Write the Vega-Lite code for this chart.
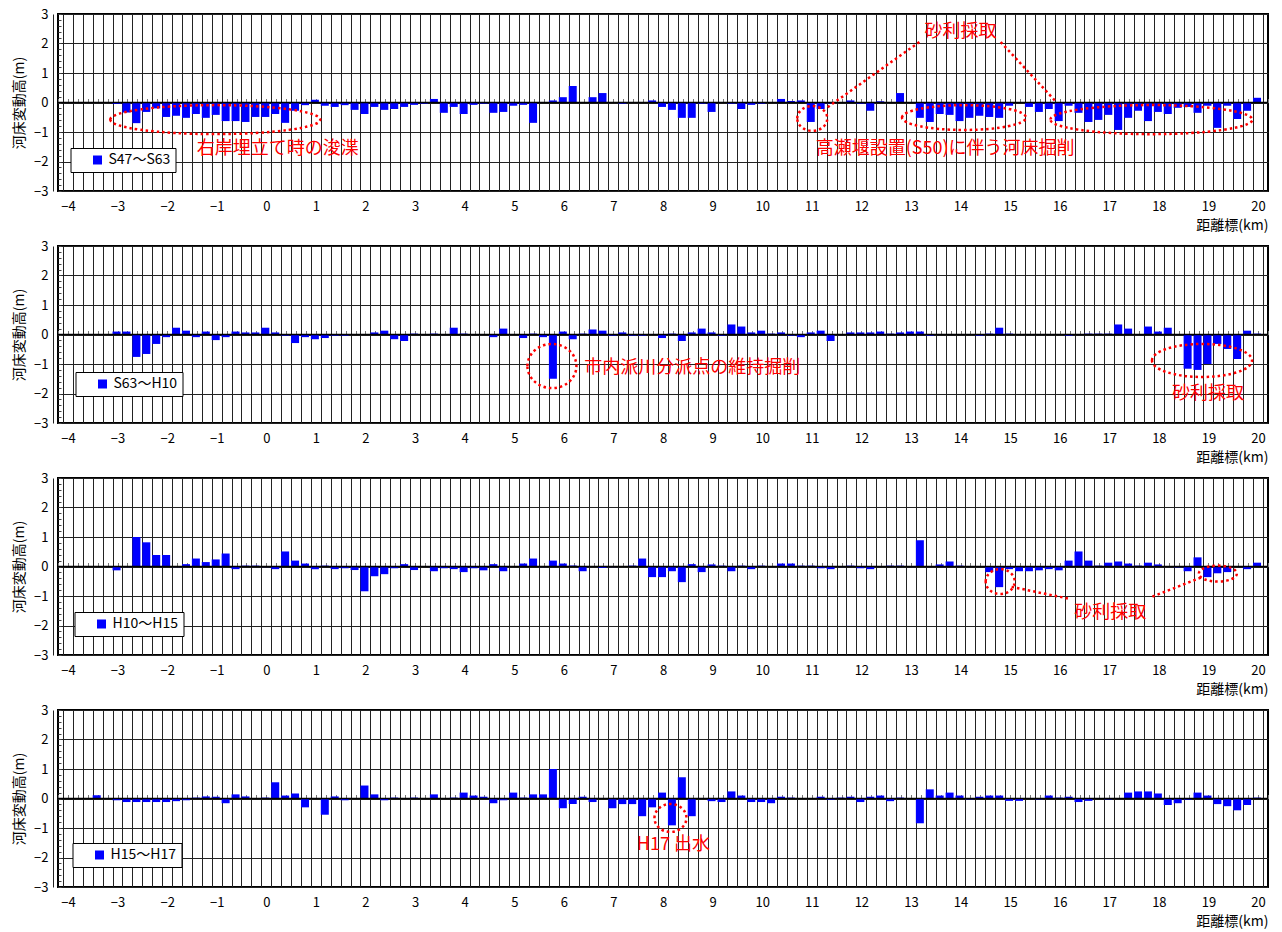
{
  "$schema": "https://vega.github.io/schema/vega-lite/v6.json",
  "background": "white",
  "padding": {"left": 11, "top": 7, "right": 14, "bottom": 0},
  "bounds": "flush",
  "spacing": 55,
  "resolve": {"scale": {"color": "independent"}, "legend": {"color": "independent"}},
  "config": {
    "font": "Noto Sans CJK JP",
    "view": {"stroke": "#000", "strokeWidth": 2},
    "axis": {"labelFont": "Noto Sans CJK JP", "titleFont": "Noto Sans CJK JP", "labelColor": "#000", "titleColor": "#000", "titleFontWeight": "normal", "labelFontSize": 13, "titleFontSize": 14},
    "legend": {"labelFont": "Noto Sans CJK JP", "labelFontSize": 14, "labelColor": "#000", "orient": "none", "title": null, "fillColor": "white", "strokeColor": "black", "padding": 5, "symbolType": "square", "symbolSize": 81, "symbolOffset": 15, "labelOffset": 4}
  },
  "datasets": {
    "p1": [{"km":-4,"dh":0},{"km":-3.8,"dh":0},{"km":-3.6,"dh":0},{"km":-3.4,"dh":0},{"km":-3.2,"dh":0},
{"km":-3,"dh":-0.05},{"km":-2.8,"dh":-0.34},{"km":-2.6,"dh":-0.7},{"km":-2.4,"dh":-0.32},{"km":-2.2,"dh":-0.2},
{"km":-2,"dh":-0.49},{"km":-1.8,"dh":-0.45},{"km":-1.6,"dh":-0.52},{"km":-1.4,"dh":-0.39},{"km":-1.2,"dh":-0.52},
{"km":-1,"dh":-0.42},{"km":-0.8,"dh":-0.63},{"km":-0.6,"dh":-0.63},{"km":-0.4,"dh":-0.66},{"km":-0.2,"dh":-0.49},
{"km":0,"dh":-0.49},{"km":0.2,"dh":-0.39},{"km":0.4,"dh":-0.69},{"km":0.6,"dh":-0.28},{"km":0.8,"dh":-0.09},
{"km":1,"dh":0.09},{"km":1.2,"dh":-0.11},{"km":1.4,"dh":-0.15},{"km":1.6,"dh":-0.09},{"km":1.8,"dh":-0.25},
{"km":2,"dh":-0.39},{"km":2.2,"dh":-0.15},{"km":2.4,"dh":-0.25},{"km":2.6,"dh":-0.22},{"km":2.8,"dh":-0.15},
{"km":3,"dh":-0.08},{"km":3.2,"dh":-0.04},{"km":3.4,"dh":0.12},{"km":3.6,"dh":-0.35},{"km":3.8,"dh":-0.15},
{"km":4,"dh":-0.39},{"km":4.2,"dh":-0.08},{"km":4.4,"dh":-0.04},{"km":4.6,"dh":-0.35},{"km":4.8,"dh":-0.32},
{"km":5,"dh":-0.11},{"km":5.2,"dh":-0.08},{"km":5.4,"dh":-0.69},{"km":5.6,"dh":0},{"km":5.8,"dh":0.07},
{"km":6,"dh":0.18},{"km":6.2,"dh":0.56},{"km":6.4,"dh":0},{"km":6.6,"dh":0.18},{"km":6.8,"dh":0.32},
{"km":7,"dh":0},{"km":7.2,"dh":-0.04},{"km":7.4,"dh":0},{"km":7.6,"dh":0},{"km":7.8,"dh":0.07},
{"km":8,"dh":-0.15},{"km":8.2,"dh":-0.25},{"km":8.4,"dh":-0.52},{"km":8.6,"dh":-0.52},{"km":8.8,"dh":-0.04},
{"km":9,"dh":-0.32},{"km":9.2,"dh":0},{"km":9.4,"dh":-0.04},{"km":9.6,"dh":-0.22},{"km":9.8,"dh":-0.08},
{"km":10,"dh":-0.04},{"km":10.2,"dh":0},{"km":10.4,"dh":0.12},{"km":10.6,"dh":0.05},{"km":10.8,"dh":0.07},
{"km":11,"dh":-0.66},{"km":11.2,"dh":-0.22},{"km":11.4,"dh":-0.03},{"km":11.6,"dh":0},{"km":11.8,"dh":0.07},
{"km":12,"dh":-0.04},{"km":12.2,"dh":-0.28},{"km":12.4,"dh":0.04},{"km":12.6,"dh":0},{"km":12.8,"dh":0.32},
{"km":13,"dh":0},{"km":13.2,"dh":-0.52},{"km":13.4,"dh":-0.66},{"km":13.6,"dh":-0.39},{"km":13.8,"dh":-0.42},
{"km":14,"dh":-0.63},{"km":14.2,"dh":-0.52},{"km":14.4,"dh":-0.45},{"km":14.6,"dh":-0.49},{"km":14.8,"dh":-0.52},
{"km":15,"dh":-0.11},{"km":15.2,"dh":0},{"km":15.4,"dh":-0.15},{"km":15.6,"dh":-0.32},{"km":15.8,"dh":-0.22},
{"km":16,"dh":-0.63},{"km":16.2,"dh":-0.11},{"km":16.4,"dh":-0.35},{"km":16.6,"dh":-0.66},{"km":16.8,"dh":-0.59},
{"km":17,"dh":-0.42},{"km":17.2,"dh":-0.93},{"km":17.4,"dh":-0.52},{"km":17.6,"dh":-0.28},{"km":17.8,"dh":-0.63},
{"km":18,"dh":-0.32},{"km":18.2,"dh":-0.39},{"km":18.4,"dh":-0.18},{"km":18.6,"dh":-0.15},{"km":18.8,"dh":-0.35},
{"km":19,"dh":-0.11},{"km":19.2,"dh":-0.86},{"km":19.4,"dh":-0.11},{"km":19.6,"dh":-0.56},{"km":19.8,"dh":-0.28},
{"km":20,"dh":0.16}],
    "p2": [{"km":-4,"dh":0},{"km":-3.8,"dh":0},{"km":-3.6,"dh":0},{"km":-3.4,"dh":0},{"km":-3.2,"dh":0},
{"km":-3,"dh":0.1},{"km":-2.8,"dh":0.1},{"km":-2.6,"dh":-0.76},{"km":-2.4,"dh":-0.66},{"km":-2.2,"dh":-0.32},
{"km":-2,"dh":-0.09},{"km":-1.8,"dh":0.23},{"km":-1.6,"dh":0.13},{"km":-1.4,"dh":-0.09},{"km":-1.2,"dh":0.1},
{"km":-1,"dh":-0.19},{"km":-0.8,"dh":-0.09},{"km":-0.6,"dh":0.1},{"km":-0.4,"dh":0.07},{"km":-0.2,"dh":0.07},
{"km":0,"dh":0.23},{"km":0.2,"dh":0.07},{"km":0.4,"dh":-0.04},{"km":0.6,"dh":-0.29},{"km":0.8,"dh":-0.09},
{"km":1,"dh":-0.16},{"km":1.2,"dh":-0.12},{"km":1.4,"dh":-0.04},{"km":1.6,"dh":-0.04},{"km":1.8,"dh":0},
{"km":2,"dh":0},{"km":2.2,"dh":0.07},{"km":2.4,"dh":0.13},{"km":2.6,"dh":-0.16},{"km":2.8,"dh":-0.22},
{"km":3,"dh":0.03},{"km":3.2,"dh":0},{"km":3.4,"dh":0.03},{"km":3.6,"dh":0},{"km":3.8,"dh":0.23},
{"km":4,"dh":0.03},{"km":4.2,"dh":0},{"km":4.4,"dh":0},{"km":4.6,"dh":-0.09},{"km":4.8,"dh":0.2},
{"km":5,"dh":0},{"km":5.2,"dh":-0.12},{"km":5.4,"dh":0.03},{"km":5.6,"dh":-0.09},{"km":5.8,"dh":-1.5},
{"km":6,"dh":0.1},{"km":6.2,"dh":-0.16},{"km":6.4,"dh":0.03},{"km":6.6,"dh":0.17},{"km":6.8,"dh":0.13},
{"km":7,"dh":-0.04},{"km":7.2,"dh":0.07},{"km":7.4,"dh":-0.04},{"km":7.6,"dh":-0.04},{"km":7.8,"dh":0},
{"km":8,"dh":-0.12},{"km":8.2,"dh":0.03},{"km":8.4,"dh":-0.22},{"km":8.6,"dh":0.07},{"km":8.8,"dh":0.2},
{"km":9,"dh":0.07},{"km":9.2,"dh":-0.04},{"km":9.4,"dh":0.34},{"km":9.6,"dh":0.27},{"km":9.8,"dh":0.07},
{"km":10,"dh":0.13},{"km":10.2,"dh":0.03},{"km":10.4,"dh":0.07},{"km":10.6,"dh":-0.04},{"km":10.8,"dh":-0.09},
{"km":11,"dh":0.07},{"km":11.2,"dh":0.13},{"km":11.4,"dh":-0.22},{"km":11.6,"dh":0},{"km":11.8,"dh":0.07},
{"km":12,"dh":0.07},{"km":12.2,"dh":0.07},{"km":12.4,"dh":0.1},{"km":12.6,"dh":0.03},{"km":12.8,"dh":0.07},
{"km":13,"dh":0.1},{"km":13.2,"dh":0.1},{"km":13.4,"dh":-0.04},{"km":13.6,"dh":0},{"km":13.8,"dh":0},
{"km":14,"dh":0},{"km":14.2,"dh":0},{"km":14.4,"dh":-0.04},{"km":14.6,"dh":0.03},{"km":14.8,"dh":0.23},
{"km":15,"dh":0.03},{"km":15.2,"dh":0},{"km":15.4,"dh":0},{"km":15.6,"dh":0},{"km":15.8,"dh":0},
{"km":16,"dh":0},{"km":16.2,"dh":-0.04},{"km":16.4,"dh":0},{"km":16.6,"dh":0.03},{"km":16.8,"dh":0.03},
{"km":17,"dh":0.03},{"km":17.2,"dh":0.34},{"km":17.4,"dh":0.2},{"km":17.6,"dh":0},{"km":17.8,"dh":0.27},
{"km":18,"dh":0.1},{"km":18.2,"dh":0.23},{"km":18.4,"dh":0},{"km":18.6,"dh":-1.16},{"km":18.8,"dh":-1.2},
{"km":19,"dh":-1.0},{"km":19.2,"dh":-0.32},{"km":19.4,"dh":-0.49},{"km":19.6,"dh":-0.83},{"km":19.8,"dh":0.13},
{"km":20,"dh":0.03}],
    "p3": [{"km":-4,"dh":0},{"km":-3.8,"dh":0},{"km":-3.6,"dh":0},{"km":-3.4,"dh":0},{"km":-3.2,"dh":0},
{"km":-3,"dh":-0.13},{"km":-2.8,"dh":-0.02},{"km":-2.6,"dh":1.0},{"km":-2.4,"dh":0.82},{"km":-2.2,"dh":0.39},
{"km":-2,"dh":0.39},{"km":-1.8,"dh":-0.02},{"km":-1.6,"dh":0.08},{"km":-1.4,"dh":0.27},{"km":-1.2,"dh":0.15},
{"km":-1,"dh":0.24},{"km":-0.8,"dh":0.44},{"km":-0.6,"dh":-0.09},{"km":-0.4,"dh":0.03},{"km":-0.2,"dh":0.03},
{"km":0,"dh":-0.02},{"km":0.2,"dh":-0.09},{"km":0.4,"dh":0.51},{"km":0.6,"dh":0.2},{"km":0.8,"dh":0.1},
{"km":1,"dh":-0.09},{"km":1.2,"dh":0.03},{"km":1.4,"dh":-0.09},{"km":1.6,"dh":-0.06},{"km":1.8,"dh":-0.12},
{"km":2,"dh":-0.84},{"km":2.2,"dh":-0.33},{"km":2.4,"dh":-0.26},{"km":2.6,"dh":-0.06},{"km":2.8,"dh":0.08},
{"km":3,"dh":-0.12},{"km":3.2,"dh":0},{"km":3.4,"dh":-0.16},{"km":3.6,"dh":-0.06},{"km":3.8,"dh":-0.09},
{"km":4,"dh":-0.19},{"km":4.2,"dh":-0.06},{"km":4.4,"dh":-0.13},{"km":4.6,"dh":0.08},{"km":4.8,"dh":-0.16},
{"km":5,"dh":0},{"km":5.2,"dh":0.1},{"km":5.4,"dh":0.27},{"km":5.6,"dh":-0.02},{"km":5.8,"dh":0.2},
{"km":6,"dh":0.1},{"km":6.2,"dh":0.03},{"km":6.4,"dh":-0.16},{"km":6.6,"dh":0},{"km":6.8,"dh":-0.05},
{"km":7,"dh":-0.02},{"km":7.2,"dh":0},{"km":7.4,"dh":0.03},{"km":7.6,"dh":0.27},{"km":7.8,"dh":-0.36},
{"km":8,"dh":-0.36},{"km":8.2,"dh":-0.16},{"km":8.4,"dh":-0.53},{"km":8.6,"dh":0.08},{"km":8.8,"dh":-0.19},
{"km":9,"dh":0.07},{"km":9.2,"dh":0.03},{"km":9.4,"dh":-0.16},{"km":9.6,"dh":0.03},{"km":9.8,"dh":-0.09},
{"km":10,"dh":0.03},{"km":10.2,"dh":0},{"km":10.4,"dh":0.1},{"km":10.6,"dh":0.1},{"km":10.8,"dh":0.03},
{"km":11,"dh":0.03},{"km":11.2,"dh":-0.06},{"km":11.4,"dh":-0.09},{"km":11.6,"dh":-0.02},{"km":11.8,"dh":0.03},
{"km":12,"dh":-0.06},{"km":12.2,"dh":-0.09},{"km":12.4,"dh":0},{"km":12.6,"dh":0.03},{"km":12.8,"dh":0.03},
{"km":13,"dh":0},{"km":13.2,"dh":0.89},{"km":13.4,"dh":0},{"km":13.6,"dh":0.07},{"km":13.8,"dh":0.17},
{"km":14,"dh":0.03},{"km":14.2,"dh":0},{"km":14.4,"dh":0},{"km":14.6,"dh":-0.19},{"km":14.8,"dh":-0.7},
{"km":15,"dh":-0.09},{"km":15.2,"dh":-0.16},{"km":15.4,"dh":-0.16},{"km":15.6,"dh":-0.13},{"km":15.8,"dh":-0.09},
{"km":16,"dh":-0.13},{"km":16.2,"dh":0.2},{"km":16.4,"dh":0.51},{"km":16.6,"dh":0.2},{"km":16.8,"dh":0.03},
{"km":17,"dh":0.13},{"km":17.2,"dh":0.17},{"km":17.4,"dh":0.1},{"km":17.6,"dh":0.03},{"km":17.8,"dh":0.13},
{"km":18,"dh":0.07},{"km":18.2,"dh":0},{"km":18.4,"dh":-0.03},{"km":18.6,"dh":-0.16},{"km":18.8,"dh":0.31},
{"km":19,"dh":-0.36},{"km":19.2,"dh":-0.23},{"km":19.4,"dh":-0.19},{"km":19.6,"dh":0},{"km":19.8,"dh":-0.09},
{"km":20,"dh":0.13}],
    "p4": [{"km":-4,"dh":0},{"km":-3.8,"dh":0},{"km":-3.6,"dh":0},{"km":-3.4,"dh":0.11},{"km":-3.2,"dh":0},
{"km":-3,"dh":-0.06},{"km":-2.8,"dh":-0.12},{"km":-2.6,"dh":-0.12},{"km":-2.4,"dh":-0.12},{"km":-2.2,"dh":-0.12},
{"km":-2,"dh":-0.12},{"km":-1.8,"dh":-0.09},{"km":-1.6,"dh":-0.06},{"km":-1.4,"dh":0.03},{"km":-1.2,"dh":0.07},
{"km":-1,"dh":0.06},{"km":-0.8,"dh":-0.16},{"km":-0.6,"dh":0.14},{"km":-0.4,"dh":0.07},{"km":-0.2,"dh":0},
{"km":0,"dh":0.03},{"km":0.2,"dh":0.55},{"km":0.4,"dh":0.1},{"km":0.6,"dh":0.17},{"km":0.8,"dh":-0.3},
{"km":1,"dh":0},{"km":1.2,"dh":-0.55},{"km":1.4,"dh":0.07},{"km":1.6,"dh":-0.06},{"km":1.8,"dh":0},
{"km":2,"dh":0.44},{"km":2.2,"dh":0.14},{"km":2.4,"dh":-0.06},{"km":2.6,"dh":0.03},{"km":2.8,"dh":0},
{"km":3,"dh":0.03},{"km":3.2,"dh":0},{"km":3.4,"dh":0.14},{"km":3.6,"dh":0},{"km":3.8,"dh":0.03},
{"km":4,"dh":0.2},{"km":4.2,"dh":0.1},{"km":4.4,"dh":0.06},{"km":4.6,"dh":-0.16},{"km":4.8,"dh":-0.06},
{"km":5,"dh":0.2},{"km":5.2,"dh":0.03},{"km":5.4,"dh":0.14},{"km":5.6,"dh":0.14},{"km":5.8,"dh":1.0},
{"km":6,"dh":-0.33},{"km":6.2,"dh":-0.19},{"km":6.4,"dh":0.06},{"km":6.6,"dh":-0.12},{"km":6.8,"dh":0},
{"km":7,"dh":-0.33},{"km":7.2,"dh":-0.19},{"km":7.4,"dh":-0.19},{"km":7.6,"dh":-0.6},{"km":7.8,"dh":-0.3},
{"km":8,"dh":0.2},{"km":8.2,"dh":-0.91},{"km":8.4,"dh":0.72},{"km":8.6,"dh":-0.6},{"km":8.8,"dh":0},
{"km":9,"dh":-0.09},{"km":9.2,"dh":-0.12},{"km":9.4,"dh":0.24},{"km":9.6,"dh":0.1},{"km":9.8,"dh":-0.12},
{"km":10,"dh":-0.12},{"km":10.2,"dh":-0.16},{"km":10.4,"dh":0.06},{"km":10.6,"dh":0.03},{"km":10.8,"dh":0},
{"km":11,"dh":0},{"km":11.2,"dh":0.06},{"km":11.4,"dh":-0.04},{"km":11.6,"dh":0.03},{"km":11.8,"dh":0.06},
{"km":12,"dh":-0.12},{"km":12.2,"dh":0.06},{"km":12.4,"dh":0.1},{"km":12.6,"dh":-0.09},{"km":12.8,"dh":0.03},
{"km":13,"dh":0},{"km":13.2,"dh":-0.84},{"km":13.4,"dh":0.31},{"km":13.6,"dh":0.1},{"km":13.8,"dh":0.2},
{"km":14,"dh":0.1},{"km":14.2,"dh":-0.03},{"km":14.4,"dh":0.06},{"km":14.6,"dh":0.1},{"km":14.8,"dh":0.1},
{"km":15,"dh":-0.08},{"km":15.2,"dh":-0.08},{"km":15.4,"dh":0},{"km":15.6,"dh":-0.03},{"km":15.8,"dh":0.1},
{"km":16,"dh":0.03},{"km":16.2,"dh":0.06},{"km":16.4,"dh":-0.12},{"km":16.6,"dh":-0.08},{"km":16.8,"dh":0},
{"km":17,"dh":-0.03},{"km":17.2,"dh":0},{"km":17.4,"dh":0.2},{"km":17.6,"dh":0.24},{"km":17.8,"dh":0.24},
{"km":18,"dh":0.17},{"km":18.2,"dh":-0.22},{"km":18.4,"dh":-0.16},{"km":18.6,"dh":-0.04},{"km":18.8,"dh":0.2},
{"km":19,"dh":0.1},{"km":19.2,"dh":-0.19},{"km":19.4,"dh":-0.26},{"km":19.6,"dh":-0.4},{"km":19.8,"dh":-0.22},
{"km":20,"dh":0.03}]
  },
  "vconcat": [
    {
      "width": 1210, "height": 177,
      "resolve": {"axis": {"x": "independent", "y": "independent"}},
      "layer": [
        {"data": {"name": "p1"},
         "mark": {"type": "bar", "orient": "vertical", "width": 8, "xOffset": -1},
         "encoding": {
           "x": {"field": "km", "type": "quantitative", "scale": {"domain": [-4.1, 20.1], "nice": false}, "axis": {"orient": "bottom", "tickCount": 121, "tickOffset": -5, "grid": true, "gridColor": "#222", "gridWidth": 1, "labels": false, "ticks": false, "domain": false, "title": null}},
           "y": {"field": "dh", "type": "quantitative", "scale": {"domain": [-3, 3], "nice": false}, "axis": {"orient": "left", "values": [-3,-2,-1,0,1,2,3], "format": "d", "grid": true, "gridColor": "#222", "ticks": false, "tickSize": 0, "domain": false, "labelPadding": 10, "labelFlush": false, "title": "河床変動高(m)", "titlePadding": 7}},
           "color": {"datum": "S47〜S63", "type": "nominal", "scale": {"range": ["#0000ff"]}, "legend": {"legendX": 12.5, "legendY": 134}}
         }},
        {"data": {"name": "p1"},
         "mark": {"type": "point", "opacity": 0},
         "encoding": {
           "x": {"field": "km", "type": "quantitative", "axis": {"orient": "bottom", "values": [-4,-3,-2,-1,0,1,2,3,4,5,6,7,8,9,10,11,12,13,14,15,16,17,18,19,20], "format": "d", "grid": false, "ticks": false, "tickSize": 0, "domain": false, "labelPadding": 9, "labelFlush": false, "labelOverlap": false, "title": "距離標(km)", "titleAnchor": "end", "titlePadding": 5}},
           "y": {"field": "dh", "type": "quantitative", "axis": {"orient": "right", "offset": -1210, "tickCount": 30, "ticks": true, "tickSize": 3, "tickColor": "#444", "labels": false, "domain": false, "grid": false, "title": null}}
         }},
        {"data": {"name": "p1"},
         "mark": {"type": "point", "opacity": 0},
         "encoding": {
           "x": {"field": "km", "type": "quantitative", "axis": {"orient": "top", "offset": -88.5, "tickCount": 121, "ticks": true, "tickSize": 4, "tickColor": "#777", "labels": false, "domain": false, "grid": false, "title": null}},
           "y": {"field": "dh", "type": "quantitative", "axis": null}
         }},
        {"data": {"values": [{}]}, "mark": {"type": "rule", "color": "#000", "strokeWidth": 1.5}, "encoding": {"y": {"datum": 0, "axis": null}}},
        {"data": {"values": [{}]}, "mark": {"type": "point", "shape": "M-1,0A1,0.138 0 1,1 1,0A1,0.138 0 1,1 -1,0Z", "size": 44100, "filled": false, "color": "#ff0000", "opacity": 1, "strokeWidth": 2.5, "strokeDash": [2.5, 3]}, "encoding": {"x": {"datum": -1.03, "axis": null}, "y": {"datum": -0.58, "axis": null}}},
        {"data": {"values": [{}]}, "mark": {"type": "point", "shape": "M-1,0A1,0.83 0 1,1 1,0A1,0.83 0 1,1 -1,0Z", "size": 900, "filled": false, "color": "#ff0000", "opacity": 1, "strokeWidth": 2.5, "strokeDash": [2.5, 3]}, "encoding": {"x": {"datum": 11.01, "axis": null}, "y": {"datum": -0.54, "axis": null}}},
        {"data": {"values": [{}]}, "mark": {"type": "point", "shape": "M-1,0A1,0.2 0 1,1 1,0A1,0.2 0 1,1 -1,0Z", "size": 15376, "filled": false, "color": "#ff0000", "opacity": 1, "strokeWidth": 2.5, "strokeDash": [2.5, 3]}, "encoding": {"x": {"datum": 14.07, "axis": null}, "y": {"datum": -0.51, "axis": null}}},
        {"data": {"values": [{}]}, "mark": {"type": "point", "shape": "M-1,0A1,0.144 0 1,1 1,0A1,0.144 0 1,1 -1,0Z", "size": 40804, "filled": false, "color": "#ff0000", "opacity": 1, "strokeWidth": 2.5, "strokeDash": [2.5, 3]}, "encoding": {"x": {"datum": 17.85, "axis": null}, "y": {"datum": -0.58, "axis": null}}},
        {"data": {"values": [{}]}, "mark": {"type": "rule", "color": "#ff0000", "strokeWidth": 2.5, "strokeDash": [2.5, 3]}, "encoding": {"x": {"datum": 13.17, "axis": null}, "y": {"datum": 2.05, "axis": null}, "x2": {"datum": 11.27}, "y2": {"datum": -0.22}}},
        {"data": {"values": [{}]}, "mark": {"type": "rule", "color": "#ff0000", "strokeWidth": 2.5, "strokeDash": [2.5, 3]}, "encoding": {"x": {"datum": 14.81, "axis": null}, "y": {"datum": 2.05, "axis": null}, "x2": {"datum": 15.93}, "y2": {"datum": 0.02}}},
        {"data": {"values": [{}]}, "mark": {"type": "text", "color": "#ff0000", "fontSize": 18, "text": "右岸埋立て時の浚渫"}, "encoding": {"x": {"datum": 0.23, "axis": null}, "y": {"datum": -1.58, "axis": null}}},
        {"data": {"values": [{}]}, "mark": {"type": "text", "color": "#ff0000", "fontSize": 18, "text": "高瀬堰設置(S50)に伴う河床掘削"}, "encoding": {"x": {"datum": 13.69, "axis": null}, "y": {"datum": -1.58, "axis": null}}},
        {"data": {"values": [{}]}, "mark": {"type": "text", "color": "#ff0000", "fontSize": 18, "text": "砂利採取"}, "encoding": {"x": {"datum": 14.0, "axis": null}, "y": {"datum": 2.39, "axis": null}}}
      ]
    },
    {
      "width": 1210, "height": 177,
      "resolve": {"axis": {"x": "independent", "y": "independent"}},
      "layer": [
        {"data": {"name": "p2"},
         "mark": {"type": "bar", "orient": "vertical", "width": 8, "xOffset": -1},
         "encoding": {
           "x": {"field": "km", "type": "quantitative", "scale": {"domain": [-4.1, 20.1], "nice": false}, "axis": {"orient": "bottom", "tickCount": 121, "tickOffset": -5, "grid": true, "gridColor": "#222", "gridWidth": 1, "labels": false, "ticks": false, "domain": false, "title": null}},
           "y": {"field": "dh", "type": "quantitative", "scale": {"domain": [-3, 3], "nice": false}, "axis": {"orient": "left", "values": [-3,-2,-1,0,1,2,3], "format": "d", "grid": true, "gridColor": "#222", "ticks": false, "tickSize": 0, "domain": false, "labelPadding": 10, "labelFlush": false, "title": "河床変動高(m)", "titlePadding": 7}},
           "color": {"datum": "S63〜H10", "type": "nominal", "scale": {"range": ["#0000ff"]}, "legend": {"legendX": 17.5, "legendY": 126}}
         }},
        {"data": {"name": "p2"},
         "mark": {"type": "point", "opacity": 0},
         "encoding": {
           "x": {"field": "km", "type": "quantitative", "axis": {"orient": "bottom", "values": [-4,-3,-2,-1,0,1,2,3,4,5,6,7,8,9,10,11,12,13,14,15,16,17,18,19,20], "format": "d", "grid": false, "ticks": false, "tickSize": 0, "domain": false, "labelPadding": 9, "labelFlush": false, "labelOverlap": false, "title": "距離標(km)", "titleAnchor": "end", "titlePadding": 5}},
           "y": {"field": "dh", "type": "quantitative", "axis": {"orient": "right", "offset": -1210, "tickCount": 30, "ticks": true, "tickSize": 3, "tickColor": "#444", "labels": false, "domain": false, "grid": false, "title": null}}
         }},
        {"data": {"name": "p2"},
         "mark": {"type": "point", "opacity": 0},
         "encoding": {
           "x": {"field": "km", "type": "quantitative", "axis": {"orient": "top", "offset": -88.5, "tickCount": 121, "ticks": true, "tickSize": 4, "tickColor": "#777", "labels": false, "domain": false, "grid": false, "title": null}},
           "y": {"field": "dh", "type": "quantitative", "axis": null}
         }},
        {"data": {"values": [{}]}, "mark": {"type": "rule", "color": "#000", "strokeWidth": 1.5}, "encoding": {"y": {"datum": 0, "axis": null}}},
        {"data": {"values": [{}]}, "mark": {"type": "point", "shape": "M-1,0A1,0.9 0 1,1 1,0A1,0.9 0 1,1 -1,0Z", "size": 2401, "filled": false, "color": "#ff0000", "opacity": 1, "strokeWidth": 2.5, "strokeDash": [2.5, 3]}, "encoding": {"x": {"datum": 5.76, "axis": null}, "y": {"datum": -1.07, "axis": null}}},
        {"data": {"values": [{}]}, "mark": {"type": "point", "shape": "M-1,0A1,0.33 0 1,1 1,0A1,0.33 0 1,1 -1,0Z", "size": 10000, "filled": false, "color": "#ff0000", "opacity": 1, "strokeWidth": 2.5, "strokeDash": [2.5, 3]}, "encoding": {"x": {"datum": 18.87, "axis": null}, "y": {"datum": -0.88, "axis": null}}},
        {"data": {"values": [{}]}, "mark": {"type": "text", "color": "#ff0000", "fontSize": 18, "align": "left", "text": "市内派川分派点の維持掘削"}, "encoding": {"x": {"datum": 6.41, "axis": null}, "y": {"datum": -1.12, "axis": null}}},
        {"data": {"values": [{}]}, "mark": {"type": "text", "color": "#ff0000", "fontSize": 18, "text": "砂利採取"}, "encoding": {"x": {"datum": 18.99, "axis": null}, "y": {"datum": -2.0, "axis": null}}}
      ]
    },
    {
      "width": 1210, "height": 177,
      "resolve": {"axis": {"x": "independent", "y": "independent"}},
      "layer": [
        {"data": {"name": "p3"},
         "mark": {"type": "bar", "orient": "vertical", "width": 8, "xOffset": -1},
         "encoding": {
           "x": {"field": "km", "type": "quantitative", "scale": {"domain": [-4.1, 20.1], "nice": false}, "axis": {"orient": "bottom", "tickCount": 121, "tickOffset": -5, "grid": true, "gridColor": "#222", "gridWidth": 1, "labels": false, "ticks": false, "domain": false, "title": null}},
           "y": {"field": "dh", "type": "quantitative", "scale": {"domain": [-3, 3], "nice": false}, "axis": {"orient": "left", "values": [-3,-2,-1,0,1,2,3], "format": "d", "grid": true, "gridColor": "#222", "ticks": false, "tickSize": 0, "domain": false, "labelPadding": 10, "labelFlush": false, "title": "河床変動高(m)", "titlePadding": 7}},
           "color": {"datum": "H10〜H15", "type": "nominal", "scale": {"range": ["#0000ff"]}, "legend": {"legendX": 16.5, "legendY": 134}}
         }},
        {"data": {"name": "p3"},
         "mark": {"type": "point", "opacity": 0},
         "encoding": {
           "x": {"field": "km", "type": "quantitative", "axis": {"orient": "bottom", "values": [-4,-3,-2,-1,0,1,2,3,4,5,6,7,8,9,10,11,12,13,14,15,16,17,18,19,20], "format": "d", "grid": false, "ticks": false, "tickSize": 0, "domain": false, "labelPadding": 9, "labelFlush": false, "labelOverlap": false, "title": "距離標(km)", "titleAnchor": "end", "titlePadding": 5}},
           "y": {"field": "dh", "type": "quantitative", "axis": {"orient": "right", "offset": -1210, "tickCount": 30, "ticks": true, "tickSize": 3, "tickColor": "#444", "labels": false, "domain": false, "grid": false, "title": null}}
         }},
        {"data": {"name": "p3"},
         "mark": {"type": "point", "opacity": 0},
         "encoding": {
           "x": {"field": "km", "type": "quantitative", "axis": {"orient": "top", "offset": -88.5, "tickCount": 121, "ticks": true, "tickSize": 4, "tickColor": "#777", "labels": false, "domain": false, "grid": false, "title": null}},
           "y": {"field": "dh", "type": "quantitative", "axis": null}
         }},
        {"data": {"values": [{}]}, "mark": {"type": "rule", "color": "#000", "strokeWidth": 1.5}, "encoding": {"y": {"datum": 0, "axis": null}}},
        {"data": {"values": [{}]}, "mark": {"type": "point", "shape": "M-1,0A1,0.86 0 1,1 1,0A1,0.86 0 1,1 -1,0Z", "size": 841, "filled": false, "color": "#ff0000", "opacity": 1, "strokeWidth": 2.5, "strokeDash": [2.5, 3]}, "encoding": {"x": {"datum": 14.8, "axis": null}, "y": {"datum": -0.51, "axis": null}}},
        {"data": {"values": [{}]}, "mark": {"type": "point", "shape": "M-1,0A1,0.42 0 1,1 1,0A1,0.42 0 1,1 -1,0Z", "size": 1444, "filled": false, "color": "#ff0000", "opacity": 1, "strokeWidth": 2.5, "strokeDash": [2.5, 3]}, "encoding": {"x": {"datum": 19.19, "axis": null}, "y": {"datum": -0.24, "axis": null}}},
        {"data": {"values": [{}]}, "mark": {"type": "rule", "color": "#ff0000", "strokeWidth": 2.5, "strokeDash": [2.5, 3]}, "encoding": {"x": {"datum": 15.03, "axis": null}, "y": {"datum": -0.69, "axis": null}, "x2": {"datum": 16.21}, "y2": {"datum": -1.1}}},
        {"data": {"values": [{}]}, "mark": {"type": "rule", "color": "#ff0000", "strokeWidth": 2.5, "strokeDash": [2.5, 3]}, "encoding": {"x": {"datum": 17.87, "axis": null}, "y": {"datum": -1.02, "axis": null}, "x2": {"datum": 18.87}, "y2": {"datum": -0.36}}},
        {"data": {"values": [{}]}, "mark": {"type": "text", "color": "#ff0000", "fontSize": 18, "text": "砂利採取"}, "encoding": {"x": {"datum": 17.02, "axis": null}, "y": {"datum": -1.56, "axis": null}}}
      ]
    },
    {
      "width": 1210, "height": 177,
      "resolve": {"axis": {"x": "independent", "y": "independent"}},
      "layer": [
        {"data": {"name": "p4"},
         "mark": {"type": "bar", "orient": "vertical", "width": 8, "xOffset": -1},
         "encoding": {
           "x": {"field": "km", "type": "quantitative", "scale": {"domain": [-4.1, 20.1], "nice": false}, "axis": {"orient": "bottom", "tickCount": 121, "tickOffset": -5, "grid": true, "gridColor": "#222", "gridWidth": 1, "labels": false, "ticks": false, "domain": false, "title": null}},
           "y": {"field": "dh", "type": "quantitative", "scale": {"domain": [-3, 3], "nice": false}, "axis": {"orient": "left", "values": [-3,-2,-1,0,1,2,3], "format": "d", "grid": true, "gridColor": "#222", "ticks": false, "tickSize": 0, "domain": false, "labelPadding": 10, "labelFlush": false, "title": "河床変動高(m)", "titlePadding": 7}},
           "color": {"datum": "H15〜H17", "type": "nominal", "scale": {"range": ["#0000ff"]}, "legend": {"legendX": 14.5, "legendY": 133}}
         }},
        {"data": {"name": "p4"},
         "mark": {"type": "point", "opacity": 0},
         "encoding": {
           "x": {"field": "km", "type": "quantitative", "axis": {"orient": "bottom", "values": [-4,-3,-2,-1,0,1,2,3,4,5,6,7,8,9,10,11,12,13,14,15,16,17,18,19,20], "format": "d", "grid": false, "ticks": false, "tickSize": 0, "domain": false, "labelPadding": 9, "labelFlush": false, "labelOverlap": false, "title": "距離標(km)", "titleAnchor": "end", "titlePadding": 5}},
           "y": {"field": "dh", "type": "quantitative", "axis": {"orient": "right", "offset": -1210, "tickCount": 30, "ticks": true, "tickSize": 3, "tickColor": "#444", "labels": false, "domain": false, "grid": false, "title": null}}
         }},
        {"data": {"name": "p4"},
         "mark": {"type": "point", "opacity": 0},
         "encoding": {
           "x": {"field": "km", "type": "quantitative", "axis": {"orient": "top", "offset": -88.5, "tickCount": 121, "ticks": true, "tickSize": 4, "tickColor": "#777", "labels": false, "domain": false, "grid": false, "title": null}},
           "y": {"field": "dh", "type": "quantitative", "axis": null}
         }},
        {"data": {"values": [{}]}, "mark": {"type": "rule", "color": "#000", "strokeWidth": 1.5}, "encoding": {"y": {"datum": 0, "axis": null}}},
        {"data": {"values": [{}]}, "mark": {"type": "point", "shape": "M-1,0A1,0.875 0 1,1 1,0A1,0.875 0 1,1 -1,0Z", "size": 1024, "filled": false, "color": "#ff0000", "opacity": 1, "strokeWidth": 2.5, "strokeDash": [2.5, 3]}, "encoding": {"x": {"datum": 8.15, "axis": null}, "y": {"datum": -0.66, "axis": null}}},
        {"data": {"values": [{}]}, "mark": {"type": "text", "color": "#ff0000", "fontSize": 18, "text": "H17 出水"}, "encoding": {"x": {"datum": 8.21, "axis": null}, "y": {"datum": -1.56, "axis": null}}}
      ]
    }
  ]
}
